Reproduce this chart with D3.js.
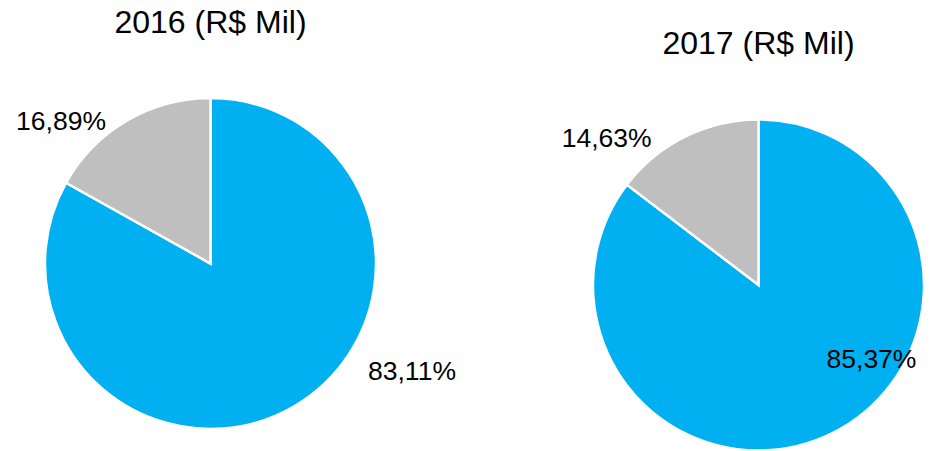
<!DOCTYPE html>
<html>
<head>
<meta charset="utf-8">
<script src="https://cdn.jsdelivr.net/npm/d3@7"></script>
<style>
    body { margin: 0; background: #fff; }
    text { font-family: "Liberation Sans", Arial, sans-serif; fill: #000; }
</style>
</head>
<body>
<div id="chart"></div>
<script>
// chart data
const titles = ['2016 (R$ Mil)', '2017 (R$ Mil)'];
const sliceNames = ['A', 'B'];
const values2016 = [83.11, 16.89];
const values2017 = [85.37, 14.63];
const sliceColors = ['#00B0F0', '#BFBFBF'];

const width = 941;
const height = 451;
const radius = 165.5;

// pie centres and label offsets (relative to the centre)
const layout = [
    { cx: 210.5, cy: 263.5, labels: [[201.5, 116.5], [-149.5, -133.5]] },
    { cx: 758.5, cy: 285, labels: [[113, 83], [-151.8, -138]] }
];

const series = [values2016, values2017];
const fmt = v => v.toFixed(2).replace('.', ',') + '%';

let svg = d3.select('#chart').append('svg')
    .attr('width', width)
    .attr('height', height);

let color = d3.scaleOrdinal().domain(sliceNames).range(sliceColors);
let pie = d3.pie().sort(null).value(d => d.value);
let arc = d3.arc().innerRadius(0).outerRadius(radius);

series.forEach((vals, i) => {
    let data = vals.map((v, j) => ({ name: sliceNames[j], value: v }));
    let pos = layout[i];

    let g = svg.append('g')
        .attr('transform', `translate(${pos.cx}, ${pos.cy})`);

    g.selectAll('path')
        .data(pie(data))
        .enter()
        .append('path')
        .attr('d', arc)
        .attr('fill', d => color(d.data.name))
        .attr('stroke', '#fff')
        .attr('stroke-width', 2.5)
        .attr('stroke-linejoin', 'miter');

    g.selectAll('text.label')
        .data(pie(data))
        .enter()
        .append('text')
        .attr('class', 'label')
        .attr('x', (d, j) => pos.labels[j][0])
        .attr('y', (d, j) => pos.labels[j][1])
        .attr('text-anchor', 'middle')
        .style('font-size', '26.5px')
        .text(d => fmt(d.data.value));

    g.append('text')
        .attr('x', 0)
        .attr('y', -231)
        .attr('text-anchor', 'middle')
        .style('font-size', '32px')
        .text(titles[i]);
});
</script>
</body>
</html>
